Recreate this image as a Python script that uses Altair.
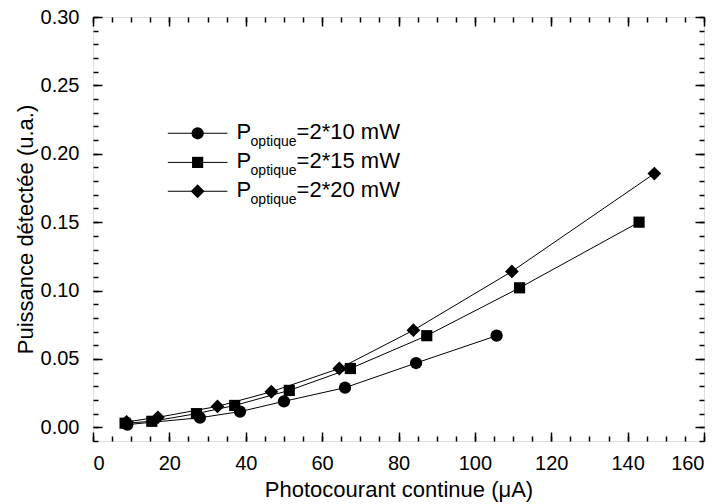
import altair as alt
import pandas as pd

# ---- data ----
x_10 = [9.0, 28.0, 38.5, 50.0, 66.0, 84.6, 105.7]
y_10 = [0.002, 0.007, 0.0115, 0.019, 0.029, 0.047, 0.067]
x_15 = [8.4, 15.4, 27.1, 37.1, 51.4, 67.4, 87.4, 111.7, 143.0]
y_15 = [0.003, 0.0044, 0.010, 0.016, 0.027, 0.043, 0.067, 0.102, 0.150]
x_20 = [8.8, 17.0, 32.6, 46.7, 64.5, 83.9, 109.7, 147.0]
y_20 = [0.004, 0.0073, 0.0153, 0.026, 0.043, 0.071, 0.114, 0.1855]

series = ["2*10 mW", "2*15 mW", "2*20 mW"]
shapes = ["circle", "square", "diamond"]
sizes = [150, 125, 190]

x_ticks = [0, 20, 40, 60, 80, 100, 120, 140, 160]
y_ticks = [0.00, 0.05, 0.10, 0.15, 0.20, 0.25, 0.30]
x_minor = [i * 5 for i in range(33)]
y_minor = [round(i * 0.01, 2) for i in range(-1, 31)]

# legend placement (data units)
leg_x_line = [19.6, 35.2]
leg_x_mark = 27.4
leg_x_text = 37.6
leg_y = [0.215, 0.1937, 0.1726]

W, H = 611, 424
FONT = "Liberation Sans"

rows = []
for s, xs_, ys_ in zip(series, [x_10, x_15, x_20], [y_10, y_15, y_20]):
    for a, b in zip(xs_, ys_):
        rows.append({"x": a, "y": b, "s": s})
df = pd.DataFrame(rows)

leg_line = pd.DataFrame([{"x": lx, "y": ly, "s": s}
                         for s, ly in zip(series, leg_y) for lx in leg_x_line])
leg_pt = pd.DataFrame([{"x": leg_x_mark, "y": ly, "s": s, "xt": leg_x_text,
                        "P": "P", "sub": "optique", "rest": "=" + s}
                       for s, ly in zip(series, leg_y)])

xs = alt.Scale(domain=[0, 160], nice=False, zero=False)
ys = alt.Scale(domain=[-0.01, 0.30], nice=False, zero=False)
shape_enc = alt.Shape("s:N", scale=alt.Scale(domain=series, range=shapes), legend=None)
size_enc = alt.Size("s:N", scale=alt.Scale(type="ordinal", domain=series, range=sizes),
                    legend=None)

lab_common = dict(labelFont=FONT, labelFontSize=20, labelColor="black",
                  titleFont=FONT, titleFontSize=22, titleColor="black",
                  titleFontWeight="normal", domain=False, grid=False, ticks=False)

x_main = alt.Axis(orient="bottom", values=x_ticks, format="d", labelPadding=12,
                  title="Photocourant continue (μA)", titlePadding=6, **lab_common)
y_main = alt.Axis(orient="left", values=y_ticks, format=".2f", labelPadding=14,
                  title="Puissance détectée (u.a.)", titlePadding=3, **lab_common)

lines = alt.Chart(df).mark_line(color="black", strokeWidth=1).encode(
    x=alt.X("x:Q", scale=xs, axis=x_main),
    y=alt.Y("y:Q", scale=ys, axis=y_main),
    detail="s:N",
)
points = alt.Chart(df).mark_point(filled=True, color="black", opacity=1).encode(
    x=alt.X("x:Q", scale=xs, axis=None),
    y=alt.Y("y:Q", scale=ys, axis=None),
    shape=shape_enc, size=size_enc,
)

l_lines = alt.Chart(leg_line).mark_line(color="black", strokeWidth=1).encode(
    x=alt.X("x:Q", scale=xs, axis=None),
    y=alt.Y("y:Q", scale=ys, axis=None),
    detail="s:N",
)
l_pts = alt.Chart(leg_pt).mark_point(filled=True, color="black", opacity=1).encode(
    x=alt.X("x:Q", scale=xs, axis=None),
    y=alt.Y("y:Q", scale=ys, axis=None),
    shape=shape_enc, size=size_enc,
)

def txt(field, dx, dy, fs):
    return alt.Chart(leg_pt).mark_text(align="left", baseline="alphabetic", dx=dx, dy=dy,
                                       font=FONT, fontSize=fs, color="black").encode(
        x=alt.X("xt:Q", scale=xs, axis=None),
        y=alt.Y("y:Q", scale=ys, axis=None),
        text=f"{field}:N",
    )

t_p = txt("P", 0, 6, 22)
t_sub = txt("sub", 14, 13, 14)
t_rest = txt("rest", 60, 6, 22)

def tick_layer(xo, xoff, xv, xsz, yo, yoff, yv, ysz):
    return alt.Chart(df).mark_point(opacity=0).encode(
        x=alt.X("x:Q", scale=xs, axis=alt.Axis(orient=xo, offset=xoff, values=xv, labels=False,
                                                 tickSize=xsz, tickColor="black", tickWidth=1.5,
                                                 domain=False, grid=False, title=None)),
        y=alt.Y("y:Q", scale=ys, axis=alt.Axis(orient=yo, offset=yoff, values=yv, labels=False,
                                                 tickSize=ysz, tickColor="black", tickWidth=1.5,
                                                 domain=False, grid=False, title=None)),
    )

# ticks pointing inward: flip orient and move axis to the opposite edge
tk1 = tick_layer("top", -H, x_ticks, 9, "right", -W, y_ticks, 9)       # bottom & left majors
tk2 = tick_layer("top", -H, x_minor, 5, "right", -W, y_minor, 5)       # bottom & left minors
tk3 = tick_layer("bottom", -H, x_ticks, 9, "left", -W, y_ticks, 9)     # top & right majors
tk4 = tick_layer("bottom", -H, x_minor, 5, "left", -W, y_minor, 5)     # top & right minors

chart = alt.layer(
    lines, points, l_lines, l_pts, t_p, t_sub, t_rest, tk1, tk2, tk3, tk4
).resolve_scale(
    x="shared", y="shared"
).resolve_axis(
    x="independent", y="independent"
).properties(
    width=W, height=H,
    autosize=alt.AutoSizeParams(type="none"),
    padding={"left": 85, "top": 9, "right": 10, "bottom": 61},
).configure_view(
    stroke="black", strokeWidth=2
).configure(background="white")

chart.save("out.html", embed_options={"renderer": "svg", "actions": False})
